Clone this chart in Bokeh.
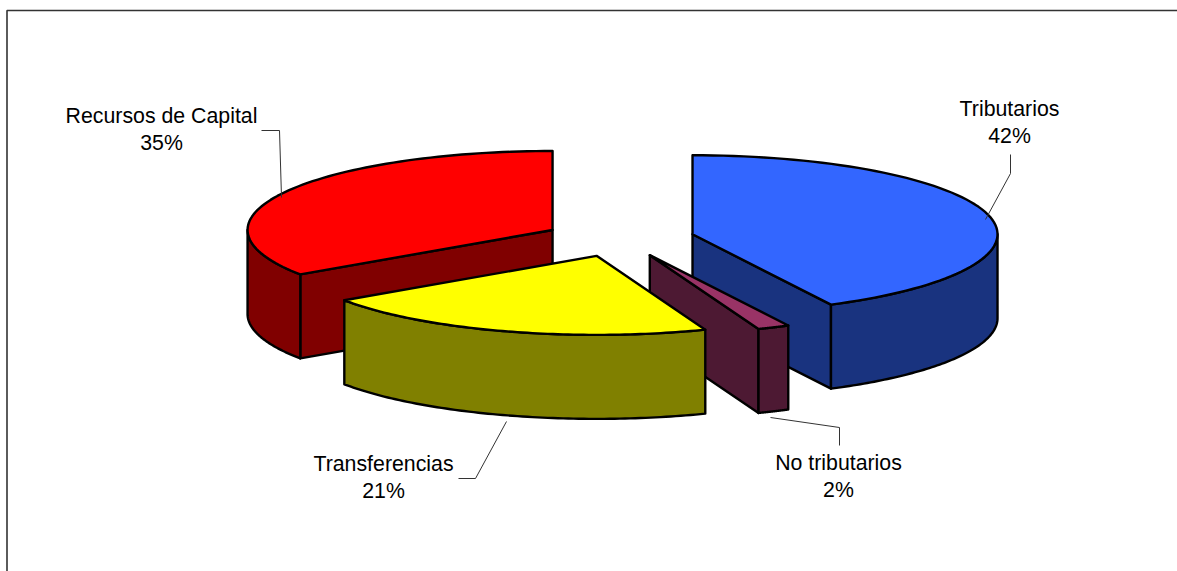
import numpy as np
from bokeh.plotting import figure
from bokeh.core.properties import value
from bokeh.embed import file_html
from bokeh.resources import INLINE

# data
categories = ["Tributarios", "No tributarios", "Transferencias", "Recursos de Capital"]
shares = [42.5, 1.7, 21.3, 34.5]
percent_labels = ["42%", "2%", "21%", "35%"]

# styles
top_colors = ["#3366FF", "#993366", "#FFFF00", "#FF0000"]
side_colors = ["#19337F", "#4D1933", "#808000", "#800000"]
draw_order = [3, 0, 1, 2]

# layout (page pixels)
W, H = 1177, 571
CX, CY, RX, RY, DEPTH = 618.7, 238.0, 305, 79, 84
PULL_X, PULL_Y = 75.4, 18.2
label_pos = [(1009, 108, 135), (838, 462, 489), (383, 463, 490), (161, 115, 142)]
leaders = [
    ([1010, 1010, 985], [154, 173, 219]),
    ([770, 839, 839], [417, 427, 445]),
    ([458, 475, 506], [478, 478, 421]),
    ([261, 279, 281], [130, 130, 197]),
]

p = figure(width=W, height=H, x_range=(0, W), y_range=(H, 0),
           output_backend="svg", toolbar_location=None, min_border=0,
           margin=(0, 0, 0, 0))
p.axis.visible = False
p.grid.visible = False
p.outline_line_color = None
p.background_fill_color = "white"

# chart frame (only its top and left edges are in the picture)
p.line([6.5, 6.5, W], [H, 10, 10], line_color="#333333", line_width=1.6)

edges = np.cumsum([0] + shares) / sum(shares) * 360.0


def rim(ax, ay, a0, a1):
    t = np.radians(np.linspace(a0, a1, 80))
    return ax + RX * np.sin(t), ay - RY * np.cos(t)


def face(xs, ys, color):
    p.patch(list(xs), list(ys), fill_color=color, line_color="black",
            line_width=2.4, line_join="round")


for i in draw_order:
    a0, a1 = edges[i], edges[i + 1]
    mid = np.radians((a0 + a1) / 2)
    ax = CX + PULL_X * np.sin(mid)
    ay = CY - PULL_Y * np.cos(mid)

    # cut face turned toward the viewer
    cut = a1 if a1 < 180 else (a0 if a0 > 180 else None)
    if cut is not None:
        ex, ey = rim(ax, ay, cut, cut)
        face([ax, ex[0], ex[0], ax], [ay, ey[0], ey[0] + DEPTH, ay + DEPTH], side_colors[i])

    # outer wall: the front half of the rim only
    w0, w1 = max(a0, 90), min(a1, 270)
    if w1 > w0:
        wx, wy = rim(ax, ay, w0, w1)
        face(np.r_[wx, wx[::-1]], np.r_[wy, wy[::-1] + DEPTH], side_colors[i])

    # top
    tx, ty = rim(ax, ay, a0, a1)
    face(np.r_[ax, tx], np.r_[ay, ty], top_colors[i])

for lx, ly in leaders:
    p.line(lx, ly, line_color="#333333", line_width=1)

names_x = [q[0] for q in label_pos]
font = value("Liberation Sans")
p.text(names_x, [q[1] for q in label_pos], text=categories, text_font=font,
       text_font_size="21.3px", text_color="#000000", text_align="center",
       text_baseline="alphabetic")
p.text(names_x, [q[2] for q in label_pos], text=percent_labels, text_font=font,
       text_font_size="21.3px", text_color="#000000", text_align="center",
       text_baseline="alphabetic")

open("out.html", "w").write(file_html(p, INLINE))
